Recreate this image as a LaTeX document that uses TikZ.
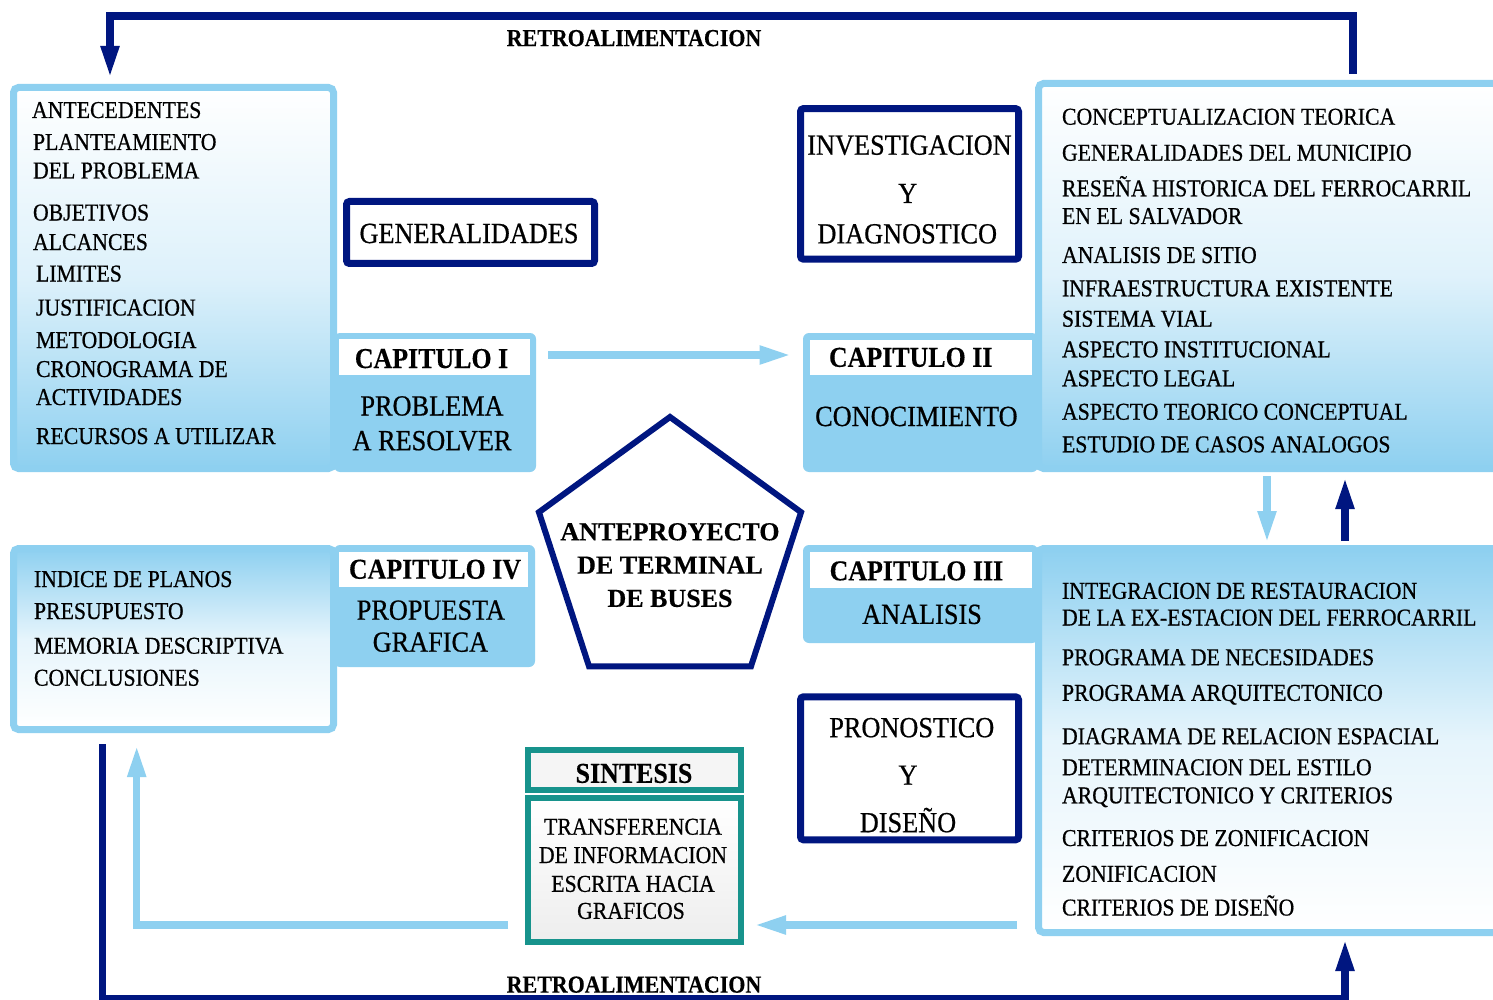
\documentclass[tikz,border=0pt]{standalone}
\usepackage{fontspec}
\setmainfont{Liberation Serif}[FakeStretch=0.9, UprightFeatures={FakeBold=0.6}, BoldFeatures={FakeBold=0.3}]
\newfontfamily\pentfont{Liberation Serif}[BoldFeatures={FakeBold=0.4}]
\usetikzlibrary{arrows.meta,calc,shapes.geometric}
\definecolor{navy}{RGB}{0,22,128}
\definecolor{lblue}{RGB}{142,208,240}
\definecolor{tealc}{RGB}{23,147,140}
\begin{document}
\begin{tikzpicture}[x=0.5pt,y=-0.5pt,
  txt/.style={inner sep=0pt, outer sep=0pt, text depth=0pt},
  lst/.style={txt, anchor=west, font=\fontsize{12.1}{14}\selectfont, text height=8pt},
  sml/.style={txt, anchor=center, font=\fontsize{12.1}{14}\selectfont, text height=8pt},
  big/.style={txt, anchor=center, font=\fontsize{14.6}{17}\selectfont, text height=9.7pt},
  capt/.style={txt, anchor=center, font=\bfseries\fontsize{14.4}{17}\selectfont, text height=9.5pt},
  retro/.style={txt, anchor=center, font=\bfseries\fontsize{12.2}{14}\selectfont, text height=8.1pt},
  pent/.style={txt, anchor=center, font=\pentfont\bfseries\fontsize{13}{15}\selectfont, text height=8.6pt},
  listbox/.style={draw=lblue, line width=3.5pt, rounded corners=2.5pt, inner sep=0pt},
  capbox/.style={fill=lblue, rounded corners=3pt, inner sep=0pt},
  labbox/.style={fill=white, inner sep=0pt},
  navybox/.style={draw=navy, line width=3.5pt, fill=white, rounded corners=1.5pt, inner sep=0pt},
  tealbox/.style={draw=tealc, line width=3pt, inner sep=0pt},
  lbarr/.style={draw=lblue, line width=3.75pt, -{Triangle[length=16pt,width=8.5pt]}},
  navyarr/.style={draw=navy, line width=3.75pt, -{Triangle[length=16pt,width=8.5pt]}},
]
\useasboundingbox (0,0) rectangle (1493,1000);
\fill[white] (0,0) rectangle (1493,1000);

% list boxes
\node[listbox, top color=white, bottom color=lblue, middle color=lblue!30, minimum width=160pt, minimum height=190.5pt] (tl) at (173.5,278) {};
\node[listbox, top color=lblue, bottom color=white, middle color=lblue!22, minimum width=160pt, minimum height=90.5pt] (bl) at (173.5,639) {};
\node[listbox, top color=white, bottom color=lblue, middle color=lblue!28, minimum width=235.75pt, minimum height=192.5pt] (rt) at (1274.25,276) {};
\node[listbox, top color=lblue, bottom color=white, middle color=lblue!22, minimum width=235.75pt, minimum height=192pt] (rb) at (1274.25,740.5) {};

% chapter boxes
\node[capbox, minimum width=101pt, minimum height=69.5pt] (cap1) at (435,402.5) {};
\node[capbox, minimum width=117.5pt, minimum height=69.5pt] (cap2) at (920.5,402.5) {};
\node[capbox, minimum width=117.5pt, minimum height=49pt] (cap3) at (920.5,594) {};
\node[capbox, minimum width=100.5pt, minimum height=61pt] (cap4) at (434.5,606) {};
\node[labbox, minimum width=95.5pt, minimum height=18pt] (lab1) at (434.5,357) {};
\node[labbox, minimum width=111pt, minimum height=17.5pt] (lab2) at (921,357.5) {};
\node[labbox, minimum width=111pt, minimum height=18pt] (lab3) at (921,570) {};
\node[labbox, minimum width=94.5pt, minimum height=17.5pt] (lab4) at (433.5,569.5) {};

% navy boxes
\node[navybox, minimum width=124pt, minimum height=31pt] (gen) at (470.5,232.5) {};
\node[navybox, minimum width=109pt, minimum height=75.3pt] (inv) at (909.5,183.9) {};
\node[navybox, minimum width=109pt, minimum height=71.5pt] (pro) at (909.5,768.3) {};

% sintesis
\node[tealbox, fill=white!96!black, minimum width=106.5pt, minimum height=20.25pt] (shead) at (634.5,769.75) {};
\node[tealbox, top color=white, bottom color=white!93!black, minimum width=106.5pt, minimum height=72.25pt] (sbody) at (634.5,869.75) {};

% pentagon
\node[regular polygon, regular polygon sides=5, draw=navy, line width=3pt, fill=white, minimum size=137.8pt, inner sep=0pt] (pent) at (670,554.8) {};

% texts top-left
\node[lst] (a1) at (32,110) {ANTECEDENTES};
\node[lst] (a2) at (33,142) {PLANTEAMIENTO};
\node[lst] (a3) at (33,170.5) {DEL PROBLEMA};
\node[lst] (a4) at (33,212.5) {OBJETIVOS};
\node[lst] (a5) at (33,242) {ALCANCES};
\node[lst] (a6) at (36,273.5) {LIMITES};
\node[lst] (a7) at (36,307.5) {JUSTIFICACION};
\node[lst] (a8) at (36,340) {METODOLOGIA};
\node[lst] (a9) at (36,369) {CRONOGRAMA DE};
\node[lst] (a10) at (36,397) {ACTIVIDADES};
\node[lst] (a11) at (36,436) {RECURSOS A UTILIZAR};

% texts right-top
\node[lst] (b1) at (1062,116.7) {CONCEPTUALIZACION TEORICA};
\node[lst] (b2) at (1062,152.7) {GENERALIDADES DEL MUNICIPIO};
\node[lst] (b3) at (1062,188.3) {RESEÑA HISTORICA DEL FERROCARRIL};
\node[lst] (b4) at (1062,216) {EN EL SALVADOR};
\node[lst] (b5) at (1062,255) {ANALISIS DE SITIO};
\node[lst] (b6) at (1062,288.3) {INFRAESTRUCTURA EXISTENTE};
\node[lst] (b7) at (1062,318.7) {SISTEMA VIAL};
\node[lst] (b8) at (1062,349.3) {ASPECTO INSTITUCIONAL};
\node[lst] (b9) at (1062,378.3) {ASPECTO LEGAL};
\node[lst] (b10) at (1062,411.7) {ASPECTO TEORICO CONCEPTUAL};
\node[lst] (b11) at (1062,444.3) {ESTUDIO DE CASOS ANALOGOS};

% texts right-bottom
\node[lst] (c1) at (1062,590.8) {INTEGRACION DE RESTAURACION};
\node[lst] (c2) at (1062,617.5) {DE LA EX-ESTACION DEL FERROCARRIL};
\node[lst] (c3) at (1062,657.2) {PROGRAMA DE NECESIDADES};
\node[lst] (c4) at (1062,692.8) {PROGRAMA ARQUITECTONICO};
\node[lst] (c5) at (1062,736.2) {DIAGRAMA DE RELACION ESPACIAL};
\node[lst] (c6) at (1062,767.2) {DETERMINACION DEL ESTILO};
\node[lst] (c7) at (1062,795.3) {ARQUITECTONICO Y CRITERIOS};
\node[lst] (c8) at (1062,838) {CRITERIOS DE ZONIFICACION};
\node[lst] (c9) at (1062,873.8) {ZONIFICACION};
\node[lst] (c10) at (1062,907.5) {CRITERIOS DE DISEÑO};

% texts bottom-left
\node[lst] (d1) at (34,579) {INDICE DE PLANOS};
\node[lst] (d2) at (34,611) {PRESUPUESTO};
\node[lst] (d3) at (34,645.7) {MEMORIA DESCRIPTIVA};
\node[lst] (d4) at (34,677.7) {CONCLUSIONES};

% chapter texts
\node[capt] (tc1) at (431.5,358.5) {CAPITULO I};
\node[big] (tp1) at (432,405.8) {PROBLEMA};
\node[big] (tp2) at (432,440.5) {A RESOLVER};
\node[big] (tgen) at (469,233.3) {GENERALIDADES};
\node[big] (ti1) at (909.5,145) {INVESTIGACION};
\node[big] (ti2) at (907.7,193.3) {Y};
\node[big] (ti3) at (907.3,233.7) {DIAGNOSTICO};
\node[capt] (tc2) at (910.7,357.3) {CAPITULO II};
\node[big] (tk) at (916.4,416.3) {CONOCIMIENTO};
\node[capt] (tc3) at (916.4,570.8) {CAPITULO III};
\node[big] (tan) at (922,614.2) {ANALISIS};
\node[big] (tr1) at (911.8,727.5) {PRONOSTICO};
\node[big] (tr2) at (908,775) {Y};
\node[big] (tr3) at (908,822.5) {DISEÑO};
\node[capt] (tc4) at (435,569.2) {CAPITULO IV};
\node[big] (tg1) at (430.9,610) {PROPUESTA};
\node[big] (tg2) at (430.4,642) {GRAFICA};
\node[capt] (ts) at (634,773.3) {SINTESIS};
\node[sml] (ts1) at (633,826.7) {TRANSFERENCIA};
\node[sml] (ts2) at (633,855) {DE INFORMACION};
\node[sml] (ts3) at (633,883.8) {ESCRITA HACIA};
\node[sml] (ts4) at (631,910.8) {GRAFICOS};
\node[pent] (te1) at (670,531.7) {ANTEPROYECTO};
\node[pent] (te2) at (670,565) {DE TERMINAL};
\node[pent] (te3) at (670,598.3) {DE BUSES};
\node[retro] (rtop) at (634,38) {RETROALIMENTACION};
\node[retro] (rbot) at (634,984.5) {RETROALIMENTACION};

% helper coordinates
\coordinate (fbA) at (1353,16);
\coordinate (fbB) at (110,16);
\coordinate (fbC) at (102.5,999);
\coordinate (fbD) at (1345,999);
\coordinate (dnx) at (1267,0);
\coordinate (upx) at (1345,0);
\coordinate (arw) at (0,925);
\coordinate (lbc) at (136.7,925);

% connectors
\draw[navyarr] ($(rt.north -| fbA)+(0,-6)$) -- (fbA) -- (fbB) -- ($(tl.north -| fbB)+(0,-6)$);
\draw[navyarr] ($(bl.south -| fbC)+(0,11)$) -- (fbC) -- (fbD) -- ($(rb.south -| fbD)+(0,3)$);
\draw[lbarr] ($(cap1.east |- lab1)+(12,-2)$) -- ($(cap2.west |- lab1)+(-11,-2)$);
\draw[lbarr] ($(rt.south -| dnx)+(0,4)$) -- ($(rb.north -| dnx)+(0,-2)$);
\draw[navyarr] ($(rb.north -| upx)+(0,-4)$) -- ($(rt.south -| upx)+(0,5)$);
\draw[lbarr] ($(rb.west |- arw)+(-18,0)$) -- ($(sbody.east |- arw)+(10,0)$);
\draw[lbarr] ($(sbody.west |- arw)+(-17,0)$) -- (lbc) -- ($(bl.south -| lbc)+(0,12)$);
\end{tikzpicture}
\end{document}
